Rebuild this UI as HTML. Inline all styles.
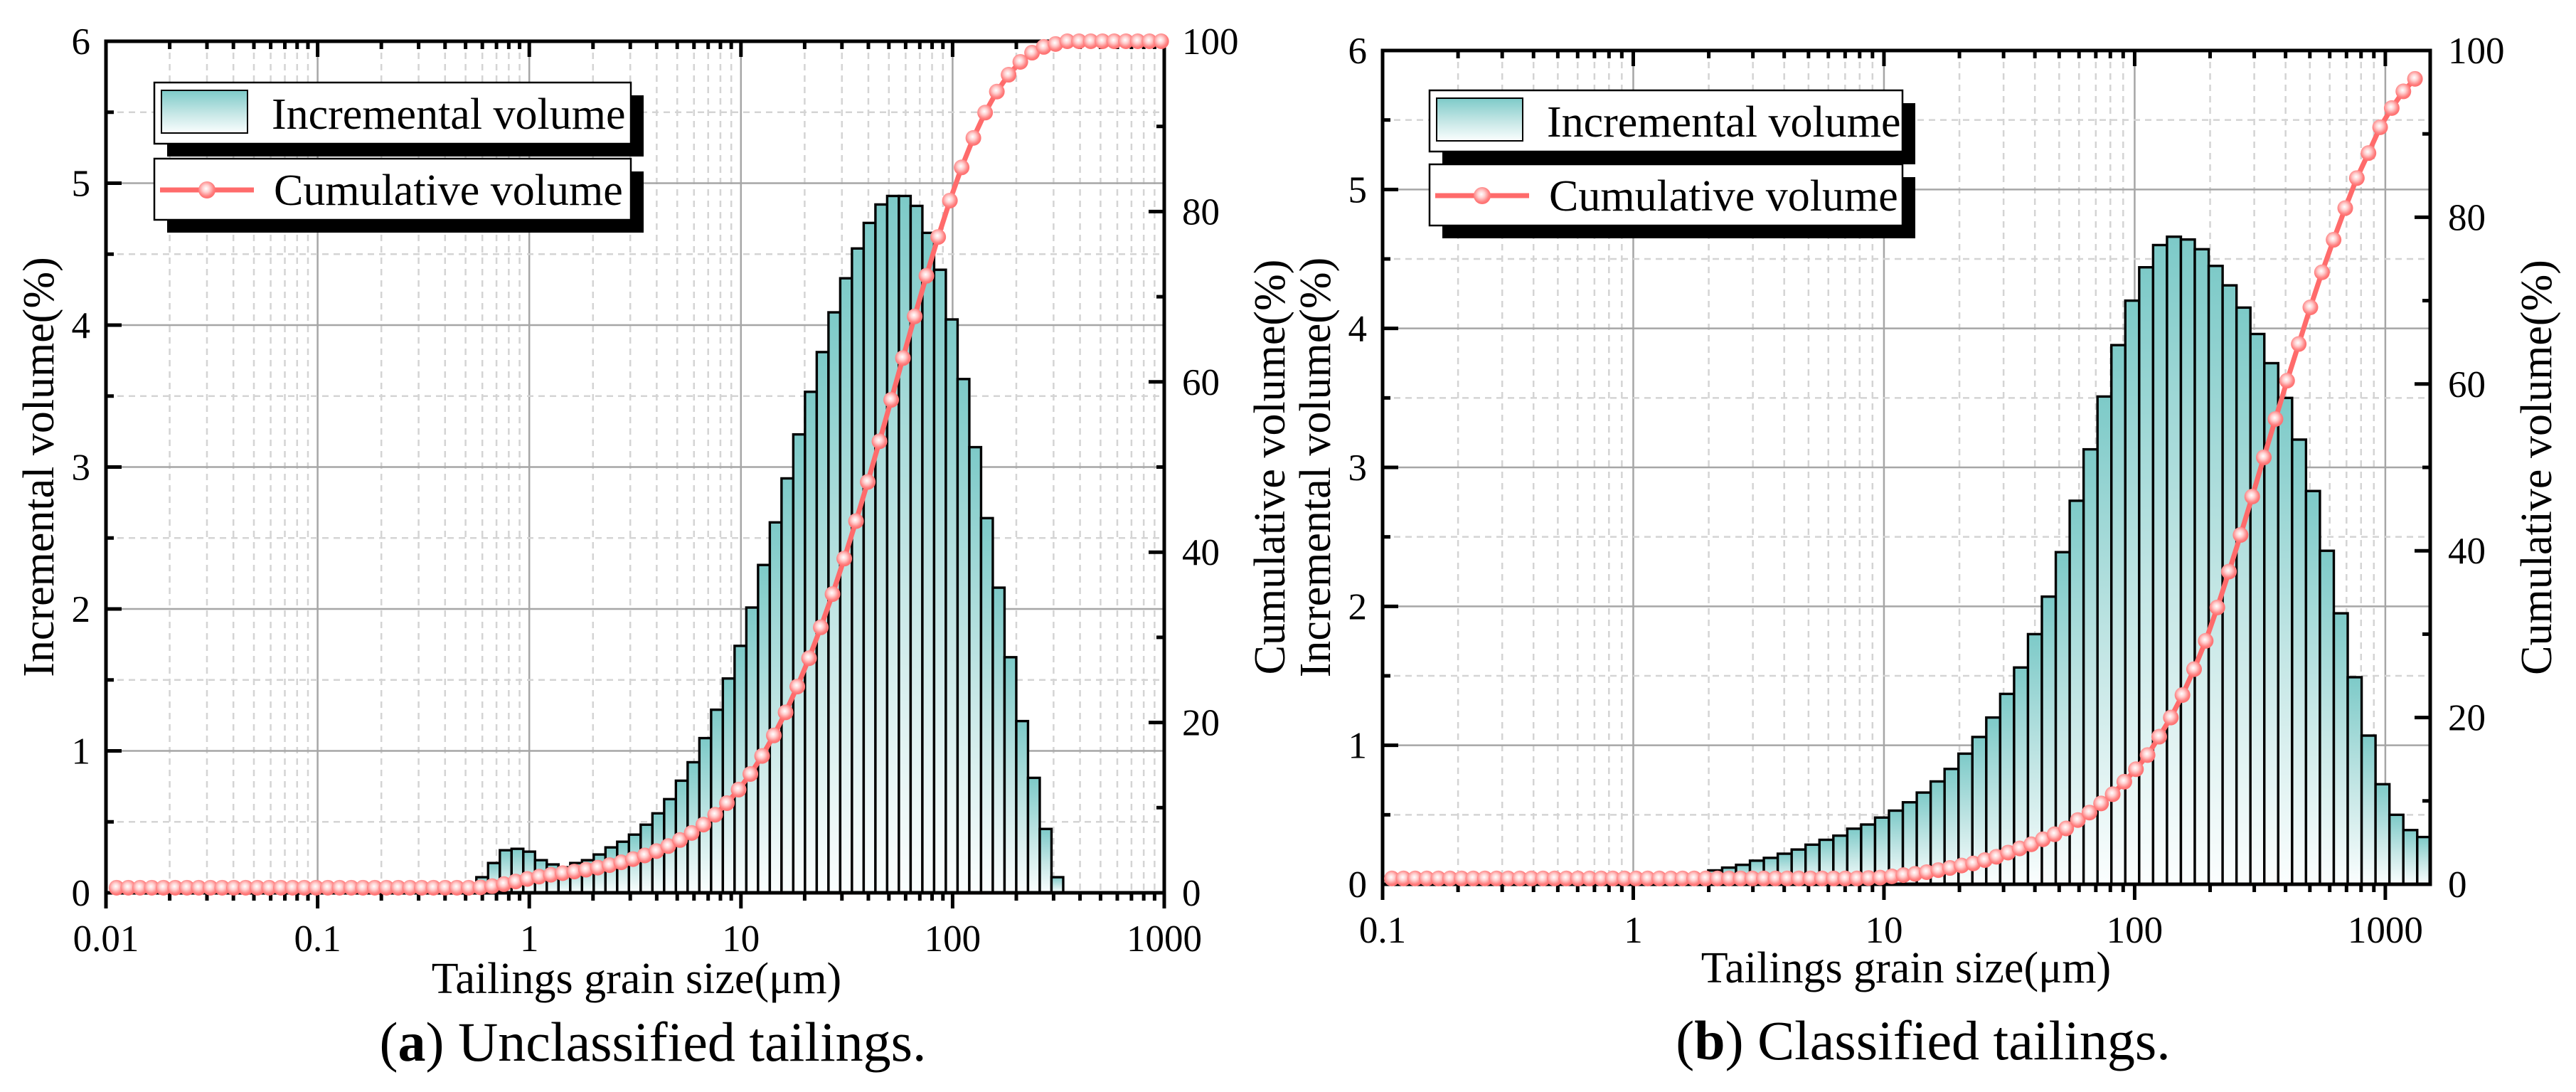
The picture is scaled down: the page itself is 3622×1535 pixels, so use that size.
<!DOCTYPE html>
<html><head><meta charset="utf-8">
<style>
html,body{margin:0;padding:0;background:#fff;}
svg{display:block;font-family:"Liberation Serif","DejaVu Serif",serif;}
</style></head>
<body>
<svg id="fig" width="3622" height="1535" viewBox="0 0 3622 1535" xmlns="http://www.w3.org/2000/svg">
<defs>
<linearGradient id="barGrad" x1="0" y1="0" x2="0" y2="1">
<stop offset="0" stop-color="#7dcac8"/>
<stop offset="0.55" stop-color="#c6e7e6"/>
<stop offset="1" stop-color="#fbfefe"/>
</linearGradient>
<radialGradient id="mkGrad" cx="0.45" cy="0.42" r="0.6">
<stop offset="0" stop-color="#ffffff"/>
<stop offset="0.35" stop-color="#ffd0d0"/>
<stop offset="0.75" stop-color="#ff8080"/>
<stop offset="1" stop-color="#ff6a6a"/>
</radialGradient>
<clipPath id="clipA"><rect x="149" y="58" width="1488" height="1197"/></clipPath>
<clipPath id="clipB"><rect x="1944" y="71" width="1473" height="1172"/></clipPath>
</defs>
</svg>
<script>
// ---------- Chart (a) data: Unclassified tailings ----------
const aBarFirstEdge = 0.5623;      // µm, left edge of first bar
const aBinRatio = 1.1362;          // size ratio between bins
const aBarValues = [0.11,0.21,0.30,0.31,0.29,0.23,0.20,0.18,0.21,0.23,0.27,0.32,0.36,0.41,0.48,0.56,0.66,0.79,0.92,1.09,1.29,1.51,1.74,2.01,2.31,2.61,2.92,3.23,3.53,3.81,4.09,4.33,4.54,4.72,4.85,4.91,4.91,4.84,4.65,4.39,4.04,3.62,3.14,2.64,2.15,1.66,1.21,0.81,0.45,0.11];
const aCumFirstSize = 0.01122;     // µm, first cumulative point
const aCumRatio = 1.1362;
const aCumValues = [0.6,0.6,0.6,0.6,0.6,0.6,0.6,0.6,0.6,0.6,0.6,0.6,0.6,0.6,0.6,0.6,0.6,0.6,0.6,0.6,0.6,0.6,0.6,0.6,0.6,0.6,0.6,0.6,0.6,0.6,0.6,
0.64,0.78,1.02,1.33,1.63,1.90,2.12,2.31,2.50,2.72,2.96,3.25,3.58,3.96,4.39,4.90,5.49,6.20,7.03,8.01,9.17,10.53,12.12,13.95,16.07,18.48,21.19,24.22,27.55,31.18,35.08,39.25,43.65,48.25,53.02,57.89,62.80,67.69,72.46,77.02,81.29,85.19,88.65,91.62,94.09,96.07,97.58,98.66,99.34,99.68,
100,100,100,100,100,100,100,100,100];
const aXTicks = [0.01,0.1,1,10,100,1000];
const aXTickLabels = ["0.01","0.1","1","10","100","1000"];

// ---------- Chart (b) data: Classified tailings ----------
const bBarFirstEdge = 1.991;
const bBinRatio = 1.1362;
const bBarValues = [0.10,0.12,0.14,0.17,0.19,0.22,0.25,0.285,0.32,0.35,0.40,0.43,0.48,0.53,0.59,0.66,0.74,0.83,0.94,1.06,1.20,1.37,1.56,1.80,2.07,2.39,2.76,3.13,3.51,3.88,4.20,4.44,4.60,4.66,4.64,4.57,4.45,4.31,4.15,3.96,3.75,3.50,3.20,2.83,2.40,1.95,1.49,1.07,0.72,0.50,0.39,0.34];
const bCumFirstSize = 0.1089;
const bCumRatio = 1.1127;
const bCumValues = [0.7,0.7,0.7,0.7,0.7,0.7,0.7,0.7,0.7,0.7,0.7,0.7,0.7,0.7,0.7,0.7,0.7,0.7,0.7,0.7,0.7,0.7,0.7,0.7,0.7,0.7,0.7,0.7,0.7,0.7,0.7,0.7,0.7,0.7,0.7,0.7,0.7,0.7,0.7,0.7,
0.7,0.75,0.8,0.95,1.1,1.25,1.45,1.7,1.96,2.25,2.5,2.9,3.3,3.8,4.3,4.8,5.4,6.0,6.7,7.7,8.6,9.7,10.8,12.3,13.8,15.5,17.7,20.0,22.7,25.8,29.2,33.2,37.5,41.9,46.5,51.2,55.8,60.4,64.8,69.2,73.4,77.3,81.1,84.7,87.7,90.8,93.1,95.1,96.6];
const bXTicks = [0.1,1,10,100,1000];
const bXTickLabels = ["0.1","1","10","100","1000"];

const leftTicks = [0,1,2,3,4,5,6];
const leftTickLabels = ["0","1","2","3","4","5","6"];
const rightTicks = [0,20,40,60,80,100];
const rightTickLabels = ["0","20","40","60","80","100"];

const NS = "http://www.w3.org/2000/svg";
const svg = document.getElementById('fig');
function mk(tag, attrs, parent){
  const e = document.createElementNS(NS, tag);
  for (const k in attrs) e.setAttribute(k, attrs[k]);
  (parent||svg).appendChild(e);
  return e;
}

function drawChart(c){
  const g = mk('g', {});
  
  
  const lmin = Math.log10(c.xmin), lmax = Math.log10(c.xmax);
  const X = v => c.L + (Math.log10(v) - lmin) / (lmax - lmin) * (c.R - c.L);
  const Y = v => c.B - v / 6 * (c.B - c.T);
  const Y2 = v => c.B - v / 100 * (c.B - c.T);

  const grid = mk('g', {}, g);
  
  
  for (let d = Math.floor(lmin); d < Math.ceil(lmax); d++){
    for (let m = 1; m <= 9; m++){
      const v = m * Math.pow(10, d);
      if (v <= c.xmin * 1.0001 || v >= c.xmax * 0.9999) continue;
      const x = X(v);
      if (m === 1) mk('line', {x1:x, y1:c.T, x2:x, y2:c.B, stroke:'#a6a6a6', 'stroke-width':2.5}, grid);
      else mk('line', {x1:x, y1:c.T, x2:x, y2:c.B, stroke:'#d4d4d4', 'stroke-width':2.5, 'stroke-dasharray':'9,7'}, grid);
    }
  }
  for (let v = 0.5; v < 6; v += 0.5){
    const y = Y(v);
    if (Number.isInteger(v)) mk('line', {x1:c.L, y1:y, x2:c.R, y2:y, stroke:'#a6a6a6', 'stroke-width':2.5}, grid);
    else mk('line', {x1:c.L, y1:y, x2:c.R, y2:y, stroke:'#d4d4d4', 'stroke-width':2.5, 'stroke-dasharray':'9,7'}, grid);
  }

  const bars = mk('g', {'clip-path':'url(#' + c.clip + ')'}, g);
  
  
  c.bars.forEach((val, i) => {
    const x0 = X(c.barFirst * Math.pow(c.barRatio, i));
    const x1 = X(c.barFirst * Math.pow(c.barRatio, i + 1));
    const r = mk('rect', {x:x0, y:Y(val), width:x1 - x0, height:c.B - Y(val), fill:'url(#barGrad)', stroke:'#000', 'stroke-width':3.4}, bars);
    
    
  });

  const ax = mk('g', {}, g);
  
  
  mk('rect', {x:c.L, y:c.T, width:c.R - c.L, height:c.B - c.T, fill:'none', stroke:'#000', 'stroke-width':5}, ax);
  for (let d = Math.floor(lmin); d < Math.ceil(lmax) + 1; d++){
    for (let m = 1; m <= 9; m++){
      const v = m * Math.pow(10, d);
      if (v < c.xmin * 0.9999 || v > c.xmax * 1.0001) continue;
      const x = X(v), len = m === 1 ? 22 : 11;
      mk('line', {x1:x, y1:c.B, x2:x, y2:c.B + len, stroke:'#000', 'stroke-width':5}, ax);
      mk('line', {x1:x, y1:c.T, x2:x, y2:c.T + len, stroke:'#000', 'stroke-width':5}, ax);
    }
  }
  for (let v = 0; v <= 6; v += 0.5){
    const len = Number.isInteger(v) ? 22 : 11;
    mk('line', {x1:c.L, y1:Y(v), x2:c.L + len, y2:Y(v), stroke:'#000', 'stroke-width':5}, ax);
  }
  for (let v = 0; v <= 100; v += 10){
    const len = (v % 20 === 0) ? 22 : 11;
    mk('line', {x1:c.R, y1:Y2(v), x2:c.R - len, y2:Y2(v), stroke:'#000', 'stroke-width':5}, ax);
  }
  c.xticks.forEach((v, i) => {
    const t = mk('text', {x:X(v), y:c.B + 82, 'font-size':53, 'text-anchor':'middle'}, ax);
    t.textContent = c.xlabels[i];
    
    
  });
  leftTicks.forEach((v, i) => {
    const t = mk('text', {x:c.L - 22, y:Y(v) + 18, 'font-size':53, 'text-anchor':'end'}, ax);
    t.textContent = leftTickLabels[i];
    
    
  });
  rightTicks.forEach((v, i) => {
    const t = mk('text', {x:c.R + 25, y:Y2(v) + 18, 'font-size':53, 'text-anchor':'start'}, ax);
    t.textContent = rightTickLabels[i];
    
    
  });

  const cum = mk('g', {}, g);
  
  
  const pts = c.cum.map((v, i) => [X(c.cumFirst * Math.pow(c.cumRatio, i)), Y2(v)]);
  mk('polyline', {points:pts.map(p => p.join(',')).join(' '), fill:'none', stroke:'#ff6b6b', 'stroke-width':7, 'stroke-linejoin':'round'}, cum);
  pts.forEach(p => {
    const m = mk('circle', {cx:p[0], cy:p[1], r:11, fill:'url(#mkGrad)'}, cum);
    
    
  });

  const xt = mk('text', {x:c.xTitleX, y:c.xTitleY, 'font-size':62, 'text-anchor':'middle'}, g);
  xt.textContent = 'Tailings grain size(\u03bcm)';
  
  
  const yt = mk('text', {x:0, y:0, 'font-size':62, 'text-anchor':'middle', transform:'translate(' + c.yTitleX + ',' + ((c.T + c.B) / 2) + ') rotate(-90)'}, g);
  yt.textContent = 'Incremental volume(%)';
  
  
  const y2t = mk('text', {x:0, y:0, 'font-size':62, 'text-anchor':'middle', transform:'translate(' + c.y2TitleX + ',' + ((c.T + c.B) / 2) + ') rotate(-90)'}, g);
  y2t.textContent = 'Cumulative volume(%)';
  
  

  const lg = mk('g', {}, g);
  
  
  const lx = c.legX, lw = c.legW, h = 86;
  [[c.legY1, 'Incremental volume', 'bar'], [c.legY2, 'Cumulative volume', 'line']].forEach(e => {
    const y = e[0];
    mk('rect', {x:lx + 18, y:y + 18, width:lw, height:h, fill:'#000'}, lg);
    const box = mk('rect', {x:lx, y:y, width:lw, height:h, fill:'#fff', stroke:'#000', 'stroke-width':2.5}, lg);
    
    
    if (e[2] === 'bar'){
      mk('rect', {x:lx + 10, y:y + 11, width:121, height:60, fill:'url(#barGrad)', stroke:'#000', 'stroke-width':2}, lg);
    } else {
      mk('line', {x1:lx + 8, y1:y + 44, x2:lx + 140, y2:y + 44, stroke:'#ff6b6b', 'stroke-width':7}, lg);
      mk('circle', {cx:lx + 74, cy:y + 44, r:12, fill:'url(#mkGrad)'}, lg);
    }
    const t = mk('text', {x:lx + (e[2] === 'bar' ? 165 : 168), y:y + 65, 'font-size':62}, lg);
    t.textContent = e[1];
  });

  const cap = mk('text', {x:c.capX, y:c.capY, 'font-size':78, 'text-anchor':'middle'}, g);
  
  
  const s1 = mk('tspan', {}, cap); s1.textContent = '(';
  const s2 = mk('tspan', {'font-weight':'bold'}, cap); s2.textContent = c.id === 'a' ? 'a' : 'b';
  const s3 = mk('tspan', {}, cap); s3.textContent = ') ' + c.caption;
}

drawChart({id:'a', L:149, R:1637, T:58, B:1255, xmin:0.01, xmax:1000, clip:'clipA',
  bars:aBarValues, barFirst:aBarFirstEdge, barRatio:aBinRatio,
  cum:aCumValues, cumFirst:aCumFirstSize, cumRatio:aCumRatio,
  xticks:aXTicks, xlabels:aXTickLabels,
  xTitleX:895, xTitleY:1396, yTitleX:75, y2TitleX:1806,
  legX:217, legW:670, legY1:116, legY2:223,
  capX:918, capY:1491, caption:'Unclassified tailings.'});
drawChart({id:'b', L:1944, R:3417, T:71, B:1243, xmin:0.1, xmax:Math.pow(10,3.179), clip:'clipB',
  bars:bBarValues, barFirst:bBarFirstEdge, barRatio:bBinRatio,
  cum:bCumValues, cumFirst:bCumFirstSize, cumRatio:bCumRatio,
  xticks:bXTicks, xlabels:bXTickLabels,
  xTitleX:2680, xTitleY:1381, yTitleX:1870, y2TitleX:3587,
  legX:2010, legW:665, legY1:127, legY2:231,
  capX:2704, capY:1489, caption:'Classified tailings.'});
</script>
</body></html>
